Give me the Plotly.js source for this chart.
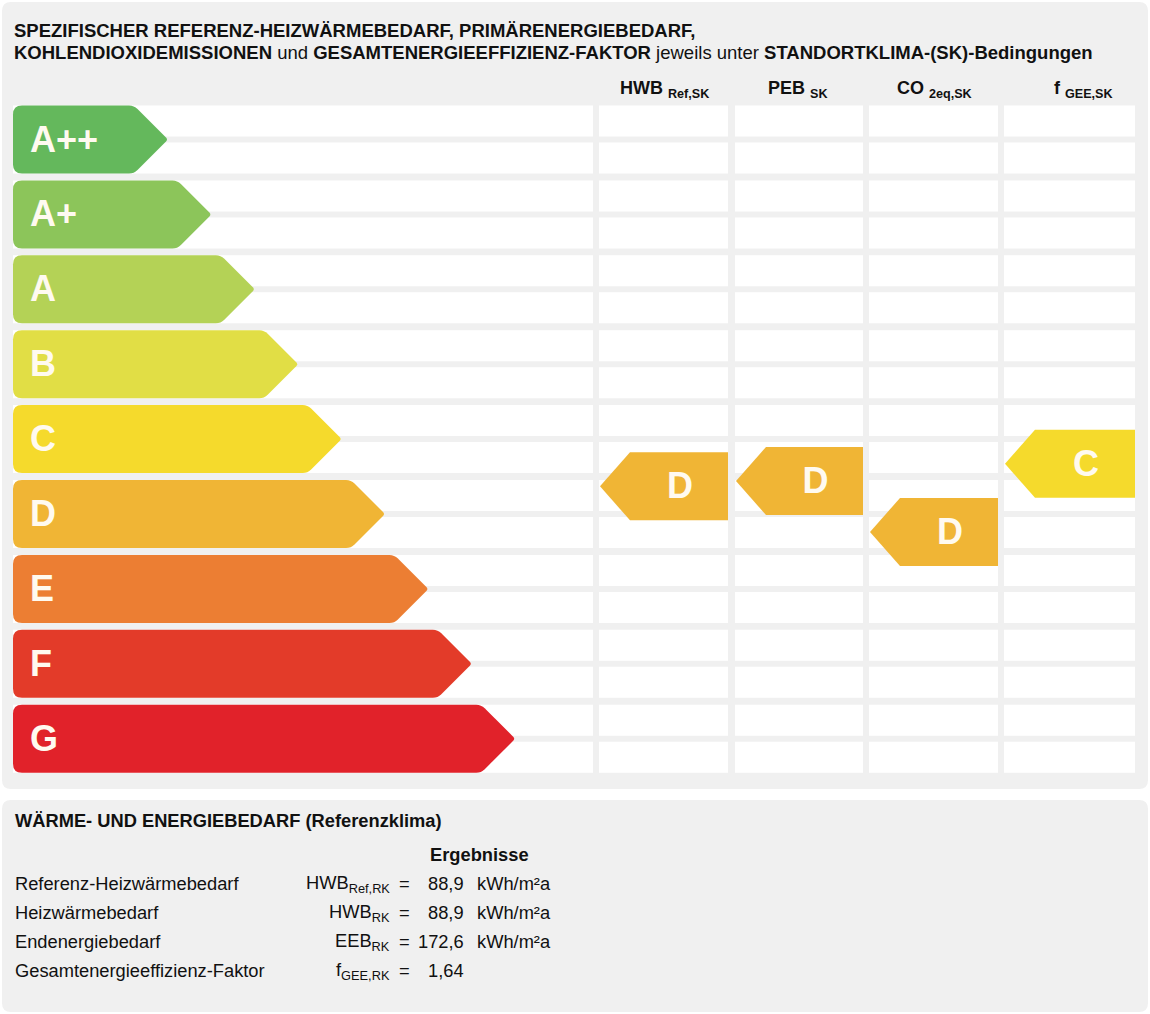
<!DOCTYPE html>
<html>
<head>
<meta charset="utf-8">
<script src="https://cdn.plot.ly/plotly-3.0.1.min.js"></script>
<style>html,body{margin:0;padding:0;background:#fff;}#chart{width:1150px;height:1014px;}</style>
</head>
<body>
<div id="chart"></div>
<script>
// ---------- DATA ----------
const classes = ['A++', 'A+', 'A', 'B', 'C', 'D', 'E', 'F', 'G'];
const classColors = ['#64b85c', '#8cc55a', '#b4d256', '#e1de45', '#f5da2c', '#f0b535', '#ec7e33', '#e33b29', '#e1222a'];

const indicatorLabels = ['HWB <sub>Ref,SK</sub>', 'PEB <sub>SK</sub>', 'CO <sub>2eq,SK</sub>', 'f <sub>GEE,SK</sub>'];
const indicatorClass = ['D', 'D', 'D', 'C'];
// position of each indicator arrow on the class scale (0 = A++ ... 8 = G)
const indicatorPos = [4.63, 4.56, 5.24, 4.33];

const tableLabels = ['Referenz-Heizwärmebedarf', 'Heizwärmebedarf', 'Endenergiebedarf', 'Gesamtenergieeffizienz-Faktor'];
const tableSymbols = ['HWB<sub>Ref,RK</sub>', 'HWB<sub>RK</sub>', 'EEB<sub>RK</sub>', 'f<sub>GEE,RK</sub>'];
const tableValues = ['88,9', '88,9', '172,6', '1,64'];
const tableUnits = ['kWh/m²a', 'kWh/m²a', 'kWh/m²a', ''];

// ---------- LAYOUT CONSTANTS ----------
const W = 1150, H = 1014;
const P = 74.9;          // px per class row
const ROW0 = 139.5;      // px centre of first row
const HH = 34 / P;       // half arrow height in row units
const TXT_DY = 3 / P;    // small vertical nudge for letters
const FONT = 'Liberation Sans, Arial, sans-serif';
const cols = [[13, 593], [599, 728], [735, 863], [869, 998], [1004, 1135]];
const TIP0 = 168, TIPSTEP = 43.4;
const py = v => 1 - v / H; // px -> paper y

const shapes = [];

function roundRectPaper(x0, y0, x1, y1, r) {
  const X = v => v / W;
  const a = py(y0), b = py(y1), ry = r / H, rx = r / W;
  return `M${X(x0) + rx},${a} L${X(x1) - rx},${a} Q${X(x1)},${a} ${X(x1)},${a - ry} ` +
    `L${X(x1)},${b + ry} Q${X(x1)},${b} ${X(x1) - rx},${b} L${X(x0) + rx},${b} ` +
    `Q${X(x0)},${b} ${X(x0)},${b + ry} L${X(x0)},${a - ry} Q${X(x0)},${a} ${X(x0) + rx},${a} Z`;
}
// panels
[[2, 2, 1148, 789], [2, 800, 1148, 1012]].forEach(p => {
  shapes.push({type: 'path', xref: 'paper', yref: 'paper', layer: 'below',
    path: roundRectPaper(p[0], p[1], p[2], p[3], 9), fillcolor: '#f0f0f0', line: {width: 0}});
});

// white stripes
cols.forEach(c => {
  let path = '';
  classes.forEach((cl, i) => {
    const top = i - HH;
    [[top, top + 31 / P], [top + 37 / P, top + 68 / P]].forEach(s => {
      path += `M${c[0]},${s[0]} L${c[1]},${s[0]} L${c[1]},${s[1]} L${c[0]},${s[1]} Z `;
    });
  });
  shapes.push({type: 'path', xref: 'x', yref: 'y', layer: 'below', path: path,
    fillcolor: '#ffffff', line: {width: 0}});
});

// class arrows (left)
classes.forEach((cl, i) => {
  const c = i, top = c - HH, bot = c + HH;
  const x0 = 13, xt = TIP0 + TIPSTEP * i, xs = xt - 34;
  const rx = 9, ry = 9 / P, s = 5, d = s * 0.7;
  const path = `M${x0 + rx},${top} L${xs - s},${top} Q${xs},${top} ${xs + d},${top + d / P} ` +
    `L${xt - 2},${c - 2 / P} Q${xt},${c} ${xt - 2},${c + 2 / P} ` +
    `L${xs + d},${bot - d / P} Q${xs},${bot} ${xs - s},${bot} L${x0 + rx},${bot} ` +
    `Q${x0},${bot} ${x0},${bot - ry} L${x0},${top + ry} Q${x0},${top} ${x0 + rx},${top} Z`;
  shapes.push({type: 'path', xref: 'x', yref: 'y', layer: 'below', path: path,
    fillcolor: classColors[i], line: {width: 0}});
});

// indicator arrows (right, pointing left)
const indX = [];
indicatorPos.forEach((pos, j) => {
  const col = cols[j + 1];
  const xl = col[0] + 1, xr = col[1], xs = xl + 30;
  const top = pos - HH, bot = pos + HH;
  const color = classColors[classes.indexOf(indicatorClass[j])];
  shapes.push({type: 'path', xref: 'x', yref: 'y', layer: 'below',
    path: `M${xr},${top} L${xs},${top} L${xl},${pos} L${xs},${bot} L${xr},${bot} Z`,
    fillcolor: color, line: {width: 0}});
  indX.push((xs + xr) / 2 + 1);
});

// ---------- TRACES ----------
const letterFont = {family: FONT, size: 36, color: '#fffaf0', weight: 'bold'};
const traces = [
  {type: 'scatter', mode: 'text', x: classes.map(() => 30), y: classes.map((c, i) => i + TXT_DY),
    text: classes, textposition: 'middle right', textfont: letterFont, hoverinfo: 'skip', showlegend: false},
  {type: 'scatter', mode: 'text', x: indX, y: indicatorPos.map(v => v + TXT_DY),
    text: indicatorClass, textposition: 'middle center', textfont: letterFont, hoverinfo: 'skip', showlegend: false}
];

// ---------- ANNOTATIONS ----------
const ann = [];
function txt(text, x, y, anchor, size) {
  ann.push({text: text, x: x, y: py(y), xref: 'x', yref: 'paper', xanchor: anchor,
    yanchor: 'middle', showarrow: false, borderpad: 0,
    font: {family: FONT, size: size, color: '#111'}});
}
txt('<b>SPEZIFISCHER REFERENZ-HEIZWÄRMEBEDARF, PRIMÄRENERGIEBEDARF,</b>', 13, 30, 'left', 18.5);
txt('<b>KOHLENDIOXIDEMISSIONEN</b> und <b>GESAMTENERGIEEFFIZIENZ-FAKTOR</b> jeweils unter <b>STANDORTKLIMA-(SK)-Bedingungen</b>', 13, 52, 'left', 18.5);

const headerX = [664.5, 797.5, 934.5, 1083.5];
indicatorLabels.forEach((l, j) => txt('<b>' + l + '</b>', headerX[j], 89, 'center', 18));

txt('<b>WÄRME- UND ENERGIEBEDARF (Referenzklima)</b>', 14, 820, 'left', 18.3);
txt('<b>Ergebnisse</b>', 429, 854, 'left', 18.3);
tableLabels.forEach((l, k) => {
  const y = 883 + 29 * k;
  txt(l, 14, y, 'left', 18.3);
  txt(tableSymbols[k], 391, y + 1, 'right', 18.3);
  txt('=', 404, y, 'center', 18.3);
  txt(tableValues[k], 465, y, 'right', 18.3);
  if (tableUnits[k]) txt(tableUnits[k], 476, y, 'left', 18.3);
});

const layout = {
  width: W, height: H,
  margin: {l: 0, r: 0, t: 0, b: 0, pad: 0},
  paper_bgcolor: '#ffffff', plot_bgcolor: 'rgba(0,0,0,0)',
  xaxis: {range: [0, W], domain: [0, 1], visible: false, fixedrange: true},
  yaxis: {range: [(H - ROW0) / P, -ROW0 / P], domain: [0, 1], visible: false, fixedrange: true},
  shapes: shapes, annotations: ann, showlegend: false,
  font: {family: FONT}
};
Plotly.newPlot('chart', traces, layout, {staticPlot: true, displayModeBar: false});
</script>
</body>
</html>
